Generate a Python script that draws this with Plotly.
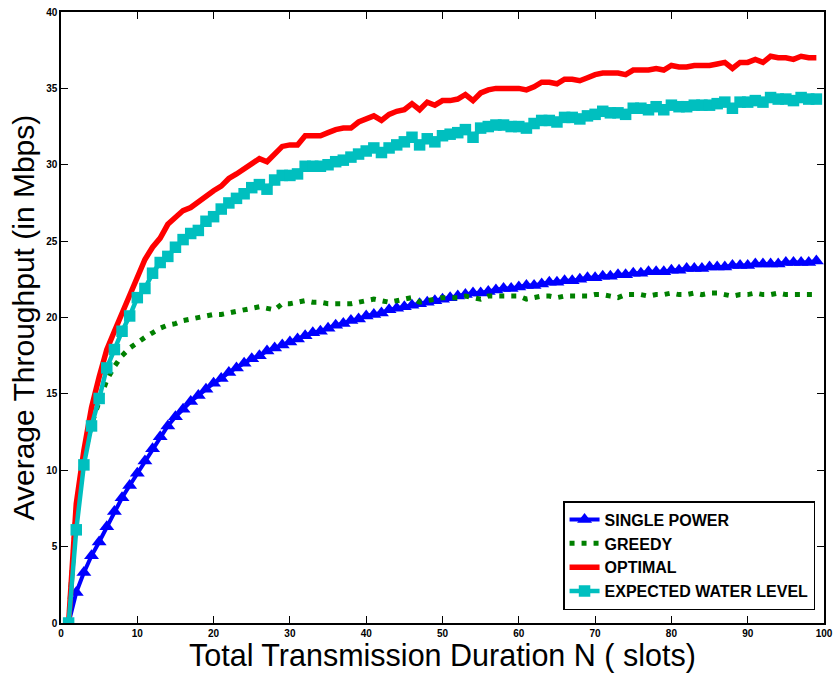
import plotly.graph_objects as go

N = list(range(1, 100))

single_power = [0, 2.0, 3.3, 4.4, 5.3, 6.3, 7.3, 8.2, 9.0, 9.8,
                10.6, 11.4, 12.2, 12.9, 13.5, 14.0, 14.5, 14.9, 15.3, 15.7,
                16.0, 16.4, 16.7, 17.0, 17.3, 17.5, 17.8, 18.0, 18.2, 18.4,
                18.6, 18.8, 19.0, 19.1, 19.3, 19.5, 19.6, 19.8, 19.9, 20.1,
                20.2, 20.3, 20.5, 20.6, 20.7, 20.8, 20.9, 21.0, 21.1, 21.2,
                21.3, 21.4, 21.5, 21.6, 21.6, 21.7, 21.8, 21.9, 21.9, 22.0,
                22.1, 22.1, 22.2, 22.3, 22.3, 22.4, 22.4, 22.5, 22.6, 22.6,
                22.7, 22.7, 22.8, 22.8, 22.9, 22.9, 23.0, 23.0, 23.0, 23.1,
                23.1, 23.2, 23.2, 23.2, 23.3, 23.3, 23.3, 23.4, 23.4, 23.4,
                23.5, 23.5, 23.5, 23.5, 23.6, 23.6, 23.6, 23.6, 23.7]

greedy = [0, 7.5, 10.8, 13.0, 14.5, 15.9, 16.8, 17.5, 18.0, 18.4,
          18.7, 19.0, 19.3, 19.5, 19.6, 19.8, 19.9, 20.0, 20.1, 20.2,
          20.2, 20.3, 20.4, 20.5, 20.6, 20.7, 20.6, 20.5, 20.9, 20.9,
          21.0, 21.1, 21.0, 21.0, 20.9, 20.9, 20.9, 20.9, 21.0, 21.1,
          21.2, 21.1, 21.0, 21.1, 21.2, 21.3, 21.0, 21.1, 21.2, 21.3,
          21.3, 21.3, 21.4, 21.3, 21.2, 21.4, 21.4, 21.4, 21.4, 21.4,
          21.2, 21.3, 21.4, 21.4, 21.3, 21.4, 21.4, 21.4, 21.4, 21.5,
          21.5, 21.4, 21.3, 21.5, 21.5, 21.5, 21.4, 21.5, 21.5, 21.6,
          21.5, 21.5, 21.6, 21.5, 21.6, 21.6, 21.5, 21.4, 21.5, 21.5,
          21.6, 21.5, 21.5, 21.6, 21.5, 21.5, 21.5, 21.5, 21.5]

optimal = [0, 7.8, 11.3, 14.1, 16.1, 17.9, 19.1, 20.3, 21.4, 22.6,
           23.8, 24.6, 25.2, 26.1, 26.6, 27.0, 27.2, 27.6, 28.0, 28.3,
           28.6, 29.1, 29.4, 29.7, 30.1, 30.4, 30.2, 30.7, 31.2, 31.3,
           31.3, 31.9, 31.9, 31.9, 32.1, 32.3, 32.4, 32.4, 32.8, 33.0,
           33.2, 32.9, 33.3, 33.5, 33.6, 34.0, 33.6, 34.1, 33.9, 34.2,
           34.2, 34.3, 34.6, 34.2, 34.7, 34.9, 35.0, 35.0, 35.0, 35.0,
           34.9, 35.1, 35.4, 35.4, 35.3, 35.6, 35.6, 35.5, 35.7, 35.9,
           36.0, 36.0, 36.0, 35.9, 36.2, 36.2, 36.2, 36.3, 36.2, 36.5,
           36.4, 36.4, 36.5, 36.5, 36.5, 36.6, 36.7, 36.3, 36.7, 36.7,
           36.9, 36.7, 37.1, 37.0, 37.0, 36.9, 37.1, 37.0, 37.0]

expected_water_level = [0, 6.1, 10.35, 12.9, 14.7, 16.7, 17.9, 19.1, 20.1, 21.3,
                        21.9, 22.9, 23.6, 24.0, 24.6, 25.1, 25.5, 25.7, 26.3, 26.6,
                        27.1, 27.5, 27.8, 28.1, 28.5, 28.7, 28.4, 29.0, 29.3, 29.3,
                        29.4, 29.9, 29.9, 29.9, 30.0, 30.2, 30.3, 30.5, 30.7, 30.9,
                        31.1, 30.8, 31.1, 31.3, 31.5, 31.8, 31.3, 31.7, 31.5, 31.9,
                        32.0, 32.1, 32.3, 31.8, 32.4, 32.5, 32.6, 32.6, 32.5, 32.5,
                        32.4, 32.7, 32.9, 32.9, 32.8, 33.1, 33.1, 33.0, 33.2, 33.3,
                        33.5, 33.4, 33.4, 33.3, 33.7, 33.7, 33.6, 33.8, 33.6, 33.9,
                        33.8, 33.8, 33.9, 33.9, 33.9, 34.0, 34.1, 33.7, 34.1, 34.1,
                        34.2, 34.1, 34.4, 34.3, 34.3, 34.2, 34.4, 34.3, 34.3]

x_ticks = [0, 10, 20, 30, 40, 50, 60, 70, 80, 90, 100]
y_ticks = [0, 5, 10, 15, 20, 25, 30, 35, 40]
x_title = "Total Transmission Duration N ( slots)"
y_title = "Average Throughput (in Mbps)"

fig = go.Figure()
fig.add_trace(go.Scatter(x=N, y=single_power, name="SINGLE POWER", legendgroup="a",
                         mode="lines+markers",
                         line=dict(color="rgb(0,0,255)", width=4),
                         marker=dict(symbol="triangle-up", size=13, color="rgb(0,0,255)")))
fig.add_trace(go.Scatter(x=N, y=greedy, name="GREEDY", legendgroup="b",
                         mode="lines",
                         line=dict(color="rgb(0,128,0)", width=5, dash="5px,7px")))
fig.add_trace(go.Scatter(x=N, y=optimal, name="OPTIMAL", legendgroup="c",
                         mode="lines",
                         line=dict(color="rgb(255,0,0)", width=5.5)))
fig.add_trace(go.Scatter(x=N, y=expected_water_level, name="EXPECTED WATER LEVEL", legendgroup="d",
                         mode="lines+markers",
                         line=dict(color="rgb(0,191,191)", width=4.5),
                         marker=dict(symbol="square", size=11.5, color="rgb(0,191,191)")))

axis_common = dict(showline=True, linecolor="black", linewidth=1.5, mirror="ticks",
                   ticks="inside", ticklen=7, tickwidth=1, tickcolor="black",
                   showgrid=False, zeroline=False, automargin=False,
                   tickfont=dict(family="Arial", size=10, color="black", weight="bold"))

fig.update_xaxes(range=[0, 100], tickvals=x_ticks, ticktext=[str(v) for v in x_ticks],
                 **axis_common)
fig.update_yaxes(range=[0, 40], tickvals=y_ticks, ticktext=[str(v) for v in y_ticks],
                 **axis_common)

fig.update_layout(
    width=833, height=673,
    margin=dict(l=61, r=9, t=12, b=50, autoexpand=False),
    plot_bgcolor="white", paper_bgcolor="white",
    legend=dict(x=0.658, y=0.021, xanchor="left", yanchor="bottom",
                bgcolor="white", bordercolor="black", borderwidth=1.5,
                font=dict(family="Arial", size=16, color="black", weight="bold"),
                tracegroupgap=0, itemwidth=30),
    annotations=[
        dict(text=x_title, xref="paper", yref="paper", x=0.5, y=0, xanchor="center",
             yanchor="middle", yshift=-32, showarrow=False,
             font=dict(family="Arial", size=30.5, color="black")),
        dict(text=y_title, xref="paper", yref="paper", x=0, y=0.5, xanchor="center",
             yanchor="middle", xshift=-38, textangle=-90, showarrow=False,
             font=dict(family="Arial", size=30, color="black")),
    ],
)

fig.write_html("out.html", config={"displayModeBar": False},
               post_script="document.body.style.margin='0';document.body.style.padding='0';")
